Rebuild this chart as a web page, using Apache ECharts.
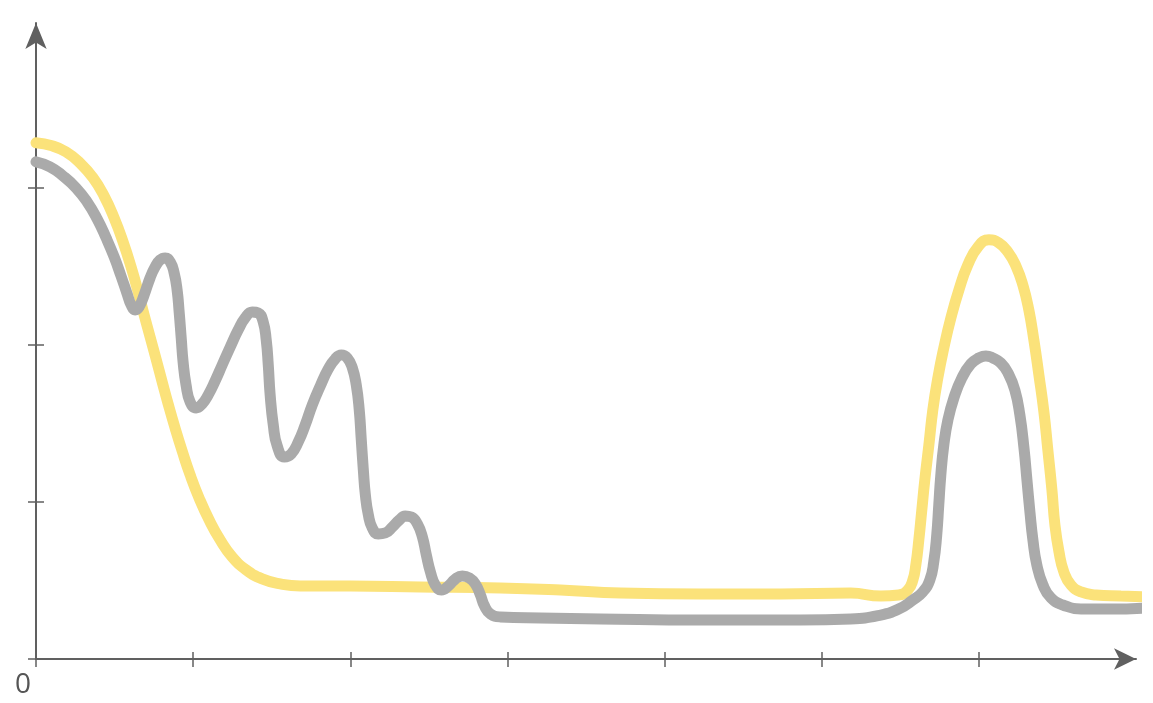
<!DOCTYPE html>
<html>
<head>
<meta charset="utf-8">
<script src="https://cdn.jsdelivr.net/npm/echarts@6/dist/echarts.min.js"></script>
<style>
html,body{margin:0;padding:0;background:#fff;}
#chart{width:1153px;height:703px;}
</style>
</head>
<body>
<div id="chart"></div>
<script>
// ---- data (axis units: one tick = 1) ----
const xTicks = [0, 1, 2, 3, 4, 5, 6];
const yTicks = [0, 1, 2, 3];
const xLabels = ['0'];

const yellowX = [0, 0.102, 0.191, 0.280, 0.363, 0.433, 0.497, 0.554, 0.605, 0.650, 0.688, 0.726, 0.764, 0.803, 0.841, 0.885, 0.930, 0.981, 1.038, 1.102, 1.172, 1.248, 1.338, 1.439, 1.554, 1.682, 2.000, 2.446, 2.955, 3.338, 3.720, 4.229, 4.739, 5.185, 5.376, 5.490, 5.548, 5.580, 5.599, 5.618, 5.637, 5.656, 5.682, 5.707, 5.739, 5.777, 5.822, 5.873, 5.930, 5.994, 6.064, 6.127, 6.185, 6.236, 6.280, 6.318, 6.350, 6.382, 6.414, 6.439, 6.465, 6.484, 6.510, 6.541, 6.586, 6.650, 6.745, 6.904, 7.064];
const yellowY = [3.287, 3.268, 3.229, 3.159, 3.064, 2.949, 2.809, 2.656, 2.497, 2.338, 2.191, 2.051, 1.911, 1.764, 1.624, 1.471, 1.325, 1.172, 1.025, 0.885, 0.758, 0.650, 0.567, 0.510, 0.478, 0.465, 0.465, 0.459, 0.452, 0.439, 0.420, 0.414, 0.414, 0.420, 0.401, 0.408, 0.439, 0.503, 0.599, 0.758, 0.949, 1.140, 1.363, 1.586, 1.790, 1.981, 2.172, 2.350, 2.510, 2.624, 2.669, 2.650, 2.592, 2.503, 2.382, 2.223, 2.032, 1.809, 1.573, 1.331, 1.076, 0.854, 0.682, 0.554, 0.471, 0.427, 0.408, 0.401, 0.395];

const grayX = [0, 0.089, 0.172, 0.255, 0.325, 0.389, 0.446, 0.497, 0.541, 0.580, 0.605, 0.631, 0.656, 0.688, 0.726, 0.758, 0.790, 0.822, 0.854, 0.879, 0.898, 0.911, 0.924, 0.936, 0.955, 0.981, 1.019, 1.057, 1.096, 1.140, 1.185, 1.236, 1.287, 1.331, 1.376, 1.414, 1.446, 1.465, 1.478, 1.490, 1.510, 1.535, 1.580, 1.624, 1.669, 1.713, 1.758, 1.809, 1.860, 1.904, 1.943, 1.981, 2.013, 2.038, 2.057, 2.070, 2.083, 2.096, 2.115, 2.140, 2.178, 2.223, 2.268, 2.312, 2.350, 2.389, 2.427, 2.459, 2.484, 2.510, 2.541, 2.580, 2.624, 2.669, 2.713, 2.758, 2.796, 2.828, 2.854, 2.892, 2.955, 3.210, 3.592, 4.229, 4.866, 5.185, 5.376, 5.490, 5.580, 5.643, 5.688, 5.713, 5.732, 5.745, 5.758, 5.777, 5.803, 5.841, 5.892, 5.949, 6.000, 6.045, 6.089, 6.140, 6.185, 6.229, 6.261, 6.287, 6.306, 6.325, 6.344, 6.369, 6.408, 6.459, 6.535, 6.650, 6.841, 7.064];
const grayY = [3.166, 3.134, 3.076, 3.000, 2.911, 2.803, 2.682, 2.561, 2.439, 2.325, 2.255, 2.223, 2.242, 2.318, 2.427, 2.497, 2.541, 2.554, 2.529, 2.459, 2.350, 2.210, 2.045, 1.892, 1.745, 1.637, 1.599, 1.624, 1.682, 1.771, 1.873, 1.987, 2.096, 2.172, 2.210, 2.204, 2.146, 2.032, 1.873, 1.682, 1.490, 1.357, 1.287, 1.306, 1.382, 1.490, 1.618, 1.739, 1.847, 1.911, 1.936, 1.917, 1.854, 1.745, 1.586, 1.395, 1.204, 1.045, 0.917, 0.834, 0.796, 0.803, 0.841, 0.885, 0.911, 0.904, 0.860, 0.777, 0.662, 0.554, 0.471, 0.439, 0.465, 0.510, 0.529, 0.516, 0.478, 0.408, 0.338, 0.287, 0.268, 0.261, 0.255, 0.248, 0.248, 0.255, 0.280, 0.318, 0.376, 0.427, 0.503, 0.618, 0.790, 0.981, 1.172, 1.363, 1.522, 1.662, 1.790, 1.879, 1.917, 1.930, 1.917, 1.885, 1.822, 1.713, 1.554, 1.344, 1.140, 0.936, 0.758, 0.599, 0.471, 0.389, 0.344, 0.318, 0.318, 0.325];

const zip = (xs, ys) => xs.map((x, i) => [x, ys[i]]);

const AXIS_COLOR = '#606060';
const gridPos = { left: 36, right: 17, top: 23, bottom: 44 };

const chart = echarts.init(document.getElementById('chart'), null, { renderer: 'canvas' });
chart.setOption({
  animation: false,
  backgroundColor: '#ffffff',
  grid: [
    Object.assign({ containLabel: false }, gridPos),
    Object.assign({ containLabel: false }, gridPos)
  ],
  xAxis: [
    {
      type: 'value', gridIndex: 0, min: 0, max: 7,
      splitLine: { show: false },
      axisLine: { show: true, onZero: false, symbol: ['none', 'arrow'], symbolSize: [16, 22],
                  lineStyle: { color: AXIS_COLOR, width: 2 } },
      axisTick: { show: true, inside: false, length: 8, customValues: xTicks,
                  lineStyle: { color: AXIS_COLOR, width: 1.5 } },
      axisLabel: { show: true, customValues: [0], formatter: () => xLabels[0],
                   color: '#555555', fontSize: 28, fontFamily: 'Open Sans, Noto Sans, sans-serif',
                   align: 'right', padding: [0, 5, 0, 0], margin: 12 }
    },
    {
      type: 'value', gridIndex: 1, min: 0, max: 7,
      splitLine: { show: false },
      axisLine: { show: false, onZero: false },
      axisTick: { show: true, inside: true, length: 7, customValues: xTicks,
                  lineStyle: { color: AXIS_COLOR, width: 1.5 } },
      axisLabel: { show: false }
    }
  ],
  yAxis: [
    {
      type: 'value', gridIndex: 0, min: 0, max: 4.05,
      splitLine: { show: false },
      axisLine: { show: true, onZero: false, symbol: ['none', 'arrow'], symbolSize: [16, 26],
                  lineStyle: { color: AXIS_COLOR, width: 2 } },
      axisTick: { show: true, inside: false, length: 8, customValues: yTicks,
                  lineStyle: { color: AXIS_COLOR, width: 1.5 } },
      axisLabel: { show: false }
    },
    {
      type: 'value', gridIndex: 1, min: 0, max: 4.05,
      splitLine: { show: false },
      axisLine: { show: false, onZero: false },
      axisTick: { show: true, inside: true, length: 8, customValues: yTicks,
                  lineStyle: { color: AXIS_COLOR, width: 1.5 } },
      axisLabel: { show: false }
    }
  ],
  series: [
    {
      name: 'yellow', type: 'line', xAxisIndex: 0, yAxisIndex: 0,
      data: zip(yellowX, yellowY), showSymbol: false, smooth: 0.5, clip: false,
      lineStyle: { color: '#fbe27a', width: 11, cap: 'round', join: 'round' },
      z: 2
    },
    {
      name: 'gray', type: 'line', xAxisIndex: 0, yAxisIndex: 0,
      data: zip(grayX, grayY), showSymbol: false, smooth: 0.5, clip: false,
      lineStyle: { color: '#aaaaaa', width: 11, cap: 'round', join: 'round' },
      z: 3
    }
  ]
});
</script>
</body>
</html>
